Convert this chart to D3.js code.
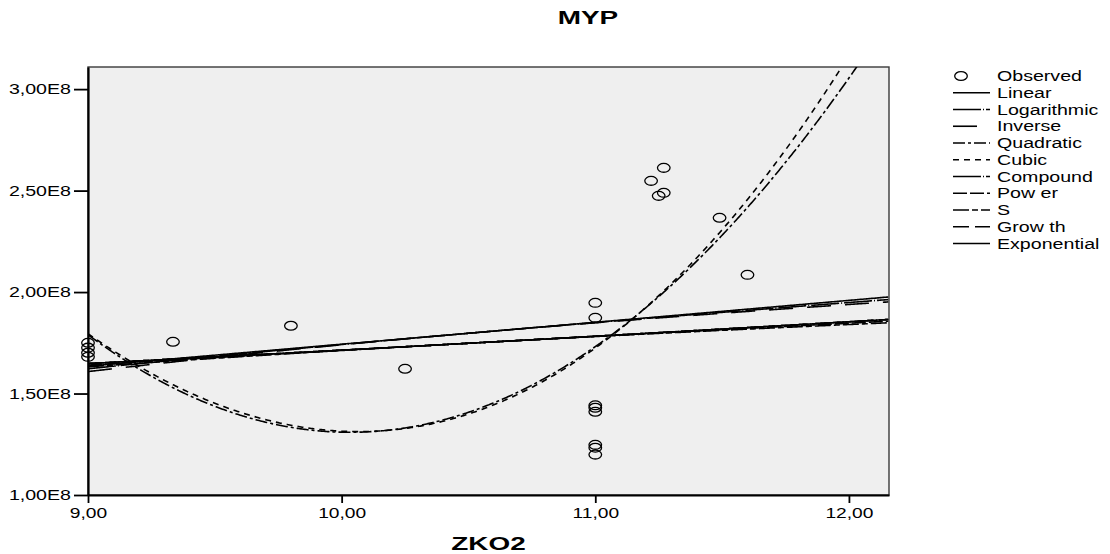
<!DOCTYPE html>
<html>
<head>
<meta charset="utf-8">
<script src="https://cdn.jsdelivr.net/npm/d3@7"></script>
<style>
  body { margin: 0; background: #fff; }
  svg { display: block; }
  text { font-family: Arial, "Liberation Sans", sans-serif; fill: #000; }
</style>
</head>
<body>
<svg id="chart" width="1110" height="554"></svg>
<script>
// Observed cases (ZKO2, MYP)
const observedX = [9.00, 9.00, 9.00, 9.00, 9.335, 9.80, 10.25,
                   11.00, 11.00, 11.00, 11.00, 11.00, 11.00, 11.00, 11.00,
                   11.22, 11.25, 11.27, 11.27, 11.49, 11.60];
const observedY = [1.750e8, 1.726e8, 1.701e8, 1.681e8, 1.755e8, 1.834e8, 1.622e8,
                   1.947e8, 1.873e8, 1.442e8, 1.430e8, 1.410e8, 1.247e8, 1.233e8, 1.199e8,
                   2.548e8, 2.474e8, 2.612e8, 2.489e8, 2.366e8, 2.085e8];

// Axis ticks
const xTicks = [9, 10, 11, 12];
const yTicks = [1.0e8, 1.5e8, 2.0e8, 2.5e8, 3.0e8];

// Curve-estimation models and their coefficients
const modelNames   = ["Linear", "Logarithmic", "Inverse", "Quadratic", "Cubic",
                      "Compound", "Power", "S", "Growth", "Exponential"];
const legendLabels = ["Linear", "Logarithmic", "Inverse", "Quadratic", "Cubic",
                      "Compound", "Pow er", "S", "Grow th", "Exponential"];
const linearCoef      = [0.663e8, 0.108e8];                    // b0 + b1*x
const logarithmicCoef = [-0.8695e8, 1.134e8];                  // b0 + b1*ln(x)
const inverseCoef     = [2.931e8, -11.907e8];                  // b0 + b1/x
const quadraticCoef   = [46.7054e8, -9.04969e8, 0.45101e8];    // b0 + b1*x + b2*x^2
const cubicCoef       = [22.804825e8, -1.877495e8, -0.263305e8, 0.023615e8];
const compoundCoef    = [1.15742e8, 1.040030];                 // b0 * b1^x
const powerCoef       = [0.66335e8, 0.412];                    // b0 * x^b1
const sCoef           = [19.39108, -4.327];                    // exp(b0 + b1/x)
const growthCoef      = [18.56687, 0.03925];                   // exp(b0 + b1*x)
const exponentialCoef = [1.15742e8, 0.03925];                  // b0 * exp(b1*x)

const modelDash = ["none", "28,2,1,2", "24,14", "12,3,3,3", "6,5",
                   "28,2,1,2", "14,3", "16,3,6,3", "16,6", "none"];

const models = {
  Linear:      x => linearCoef[0] + linearCoef[1] * x,
  Logarithmic: x => logarithmicCoef[0] + logarithmicCoef[1] * Math.log(x),
  Inverse:     x => inverseCoef[0] + inverseCoef[1] / x,
  Quadratic:   x => quadraticCoef[0] + quadraticCoef[1] * x + quadraticCoef[2] * x * x,
  Cubic:       x => cubicCoef[0] + cubicCoef[1] * x + cubicCoef[2] * x * x + cubicCoef[3] * x * x * x,
  Compound:    x => compoundCoef[0] * Math.pow(compoundCoef[1], x),
  Power:       x => powerCoef[0] * Math.pow(x, powerCoef[1]),
  S:           x => Math.exp(sCoef[0] + sCoef[1] / x),
  Growth:      x => Math.exp(growthCoef[0] + growthCoef[1] * x),
  Exponential: x => exponentialCoef[0] * Math.exp(exponentialCoef[1] * x)
};

const plot = { left: 88, right: 889, top: 67, bottom: 495 };

const x = d3.scaleLinear().domain([9, 12.158]).range([plot.left, plot.right]);
const y = d3.scaleLinear().domain([1.0e8, 3.109e8]).range([plot.bottom, plot.top]);

const svg = d3.select("#chart");

// Widen text horizontally, like the original renderer does
function stretch(sel, k) {
  sel.each(function () {
    const w = this.getComputedTextLength();
    this.setAttribute("textLength", w * k);
    this.setAttribute("lengthAdjust", "spacingAndGlyphs");
  });
}

// Plot background and frame
svg.append("rect")
  .attr("x", plot.left).attr("y", plot.top)
  .attr("width", plot.right - plot.left).attr("height", plot.bottom - plot.top)
  .attr("fill", "#efefef").attr("stroke", "#3a3a3a").attr("stroke-width", 1.4);

svg.append("clipPath").attr("id", "plot-clip")
  .append("rect")
  .attr("x", plot.left).attr("y", plot.top)
  .attr("width", plot.right - plot.left).attr("height", plot.bottom - plot.top);

// Fitted curves
const grid = d3.range(9, 12.16, 0.005);
const line = d3.line().x(d => x(d[0])).y(d => y(d[1]));
const curves = svg.append("g").attr("clip-path", "url(#plot-clip)");
modelNames.forEach((name, i) => {
  curves.append("path")
    .attr("d", line(grid.map(v => [v, models[name](v)])))
    .attr("fill", "none")
    .attr("stroke", "#000")
    .attr("stroke-width", 1.6)
    .attr("stroke-dasharray", modelDash[i]);
});

// Observed points
svg.append("g").selectAll("ellipse")
  .data(observedX.map((v, i) => [v, observedY[i]]))
  .join("ellipse")
  .attr("cx", d => x(d[0])).attr("cy", d => y(d[1]))
  .attr("rx", 6.3).attr("ry", 4.4)
  .attr("fill", "none").attr("stroke", "#000").attr("stroke-width", 1.3);

// Axes
const fmtY = d => (d / 1e8).toFixed(2).replace(".", ",") + "E8";
const fmtX = d => d.toFixed(2).replace(".", ",");

const yAxis = svg.append("g")
  .attr("transform", `translate(${plot.left},0)`)
  .call(d3.axisLeft(y).tickValues(yTicks).tickFormat(fmtY).tickSize(14).tickSizeOuter(0).tickPadding(3));
const xAxis = svg.append("g")
  .attr("transform", `translate(0,${plot.bottom})`)
  .call(d3.axisBottom(x).tickValues(xTicks).tickFormat(fmtX).tickSize(8).tickSizeOuter(0).tickPadding(5));

[yAxis, xAxis].forEach(g => {
  g.select(".domain").attr("stroke", "#000").attr("stroke-width", 2.2);
  g.selectAll(".tick line").attr("stroke", "#000").attr("stroke-width", 1.8);
  g.selectAll(".tick text").attr("font-size", 14).attr("fill", "#000")
    .style("font-family", "Arial, 'Liberation Sans', sans-serif");
});
stretch(yAxis.selectAll(".tick text"), 1.4);
stretch(xAxis.selectAll(".tick text"), 1.37);

// Title and axis title
const title = svg.append("text")
  .attr("x", 588).attr("y", 24)
  .attr("text-anchor", "middle")
  .attr("font-size", 18).attr("font-weight", "bold")
  .text("MYP");
stretch(title, 1.55);

const xTitle = svg.append("text")
  .attr("x", (plot.left + plot.right) / 2).attr("y", 550)
  .attr("text-anchor", "middle")
  .attr("font-size", 18).attr("font-weight", "bold")
  .text("ZKO2");
stretch(xTitle, 1.55);

// Legend
const legend = svg.append("g");
const legendTop = 76, legendStep = 16.75;
legend.append("ellipse")
  .attr("cx", 961).attr("cy", legendTop)
  .attr("rx", 6.3).attr("ry", 4.4)
  .attr("fill", "none").attr("stroke", "#000").attr("stroke-width", 1.3);
const legendTexts = [legend.append("text")
  .attr("x", 997).attr("y", legendTop).attr("dy", "0.36em")
  .attr("font-size", 14).text("Observed")];

modelNames.forEach((name, i) => {
  const ly = legendTop + (i + 1) * legendStep;
  legend.append("line")
    .attr("x1", 953).attr("x2", 990).attr("y1", ly).attr("y2", ly)
    .attr("stroke", "#000").attr("stroke-width", 1.6)
    .attr("stroke-dasharray", modelDash[i]);
  legendTexts.push(legend.append("text")
    .attr("x", 997).attr("y", ly).attr("dy", "0.36em")
    .attr("font-size", 14).text(legendLabels[i]));
});
legendTexts.forEach(t => stretch(t, 1.4));
</script>
</body>
</html>
